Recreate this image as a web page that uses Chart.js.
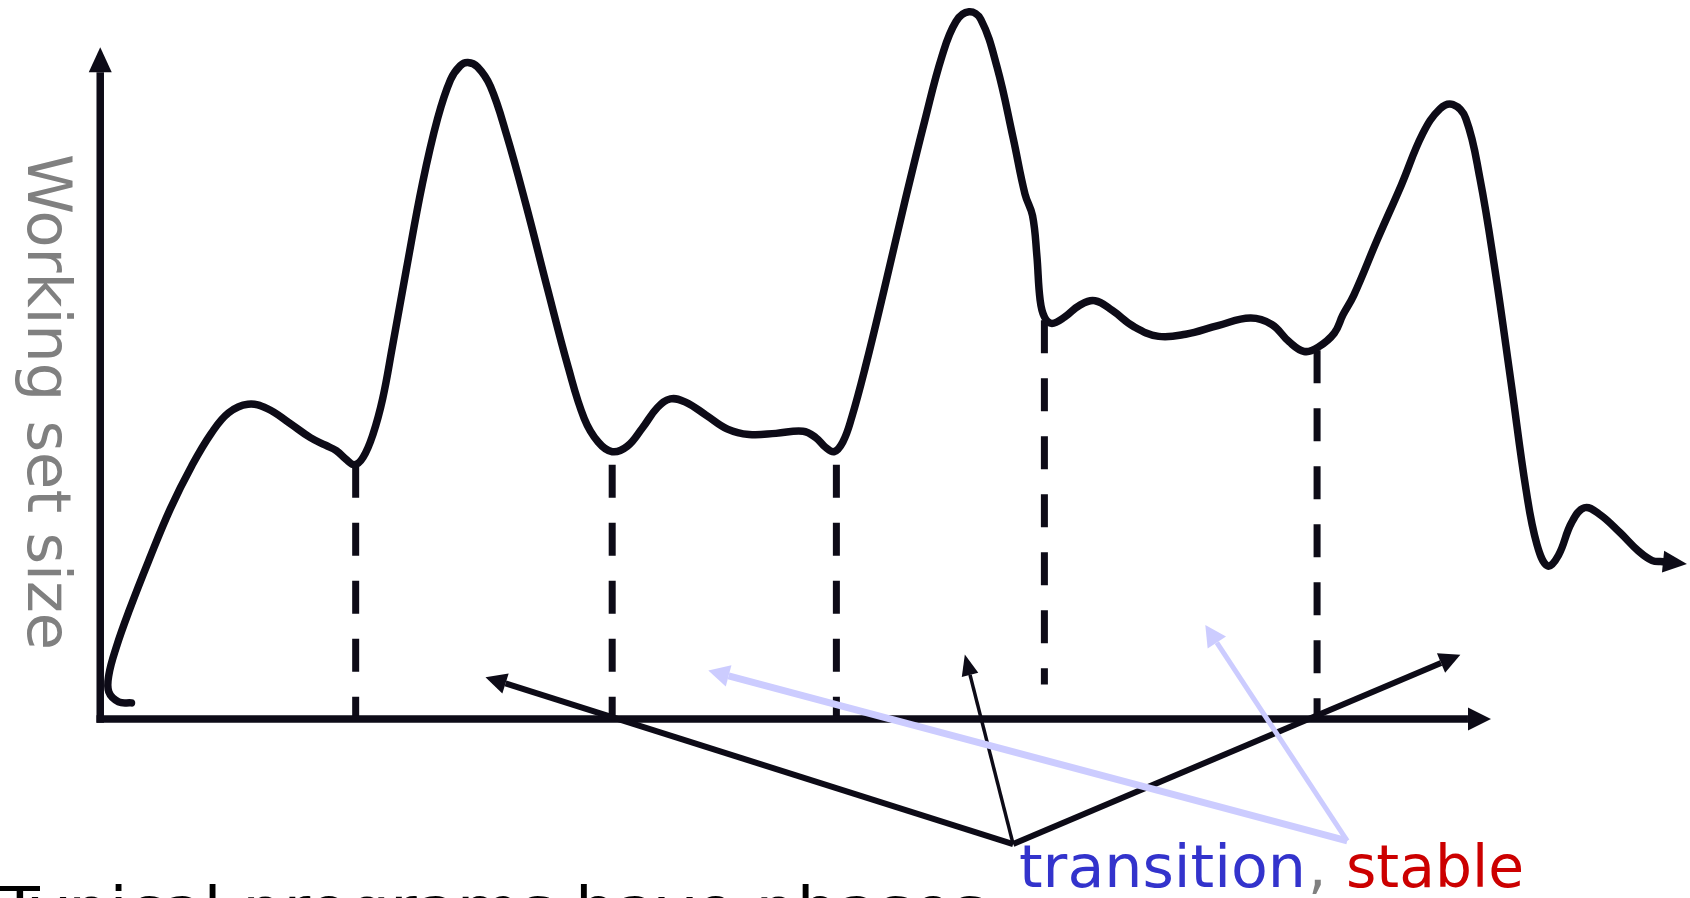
<!DOCTYPE html>
<html>
<head>
<meta charset="utf-8">
<title>Working set size</title>
<script src="https://cdn.jsdelivr.net/npm/chart.js@4.4.1/dist/chart.umd.min.js"></script>
<style>
  html, body { margin: 0; padding: 0; background: #fff; overflow: hidden; }
  canvas { display: block; }
</style>
</head>
<body>
<canvas id="chart" width="1690" height="898"></canvas>
<script>
'use strict'

// working set size over time (arbitrary units)
const timeValues = [
  2.9, 1.7, 0.8, 0.8, 1.5, 2.7, 4.5, 6.5, 8.5, 10.3, 11.9, 13.7, 15.5, 17.5, 19.5, 20.9,
  21.9, 22.8, 23.6, 24.4, 25.3, 26.2, 27.1, 28.4, 29.9, 31.3, 32.5, 33.4, 34.1, 35.0,
  36.2, 37.7, 39.5, 41.5, 43.4, 44.9, 46.2, 47.5, 48.9, 50.3, 51.7, 52.9, 54.3, 56.2,
  58.2, 60.2, 62.7, 65.2, 66.4, 67.3, 68.1, 68.9, 69.7, 71.0, 72.7, 74.7, 76.5, 78.1,
  79.4, 80.6, 81.7, 83.2, 84.7, 85.8, 86.5, 86.9, 87.2, 87.6, 88.3, 89.5, 90.9, 92.3,
  93.9, 95.9, 98.2, 100.7, 103.7, 106.7, 108.7, 110.3, 111.7, 113.0, 114.5, 115.3,
  116.3, 118.5, 120.7, 122.7, 124.3, 125.5, 126.7, 128.0, 129.4, 130.9, 132.3, 133.3,
  134.3, 135.3, 136.5, 137.7, 139.1, 141.0, 142.7, 144.0, 145.0
]
const sizeValues = [
  1.5, 1.6, 2.5, 4.1, 6.7, 10.1, 14.7, 19.5, 23.5, 26.5, 28.4, 29.2, 28.8, 27.5, 26.1, 25.4,
  24.9, 24.1, 23.6, 24.3, 26.4, 29.7, 34.5, 41.7, 49.7, 55.7, 59.3, 60.6, 60.9, 60.5,
  58.7, 54.2, 47.7, 39.9, 32.7, 27.9, 25.7, 24.8, 25.3, 27.0, 28.9, 29.7, 29.4, 28.2,
  26.9, 26.4, 26.5, 26.7, 26.1, 25.2, 24.8, 25.7, 27.9, 32.7, 39.7, 48.2, 55.5, 61.5,
  64.7, 65.6, 64.9, 60.5, 53.9, 48.7, 46.7, 43.0, 38.9, 37.3, 36.7, 37.3, 38.4, 38.8,
  37.9, 36.4, 35.5, 35.7, 36.5, 37.2, 36.6, 35.0, 34.1, 34.5, 35.8, 37.5,
  39.3, 44.5, 49.5, 54.3, 56.6, 57.0, 55.7, 50.2, 41.7, 31.2, 21.2, 16.2,
  14.2, 15.2, 18.2, 19.6, 19.0, 17.3, 15.6, 14.7, 14.6
]

// phase boundaries (dashed drops to the time axis)
const boundaryTime = [23.7, 47.5, 68.3, 87.6, 112.9]
const boundaryTop = [23.6, 23.6, 23.6, 37.0, 34.2]
const boundaryBottom = [0, 0, 0, 3.2, 0]

// label pointers: start near the word, end at the arrow head
const transitionFrom = [84.7, -11.6]
const transitionTo = [[37.6, 3.3], [80.7, 4.1], [124.4, 5.2]]
const stableFrom = [115.7, -11.3]
const stableTo = [[58.3, 4.0], [103.6, 7.1]]

// axes
const axisTimeEnd = 126.9
const axisSizeEnd = 60.0
const viewTime = [-9.3, 147.5]
const viewSize = [-16.6, 66.7]

const INK = '#0d0b17'
const PALE = '#ccccff'

function seg (from, to) {
  return [{ x: from[0], y: from[1] }, { x: to[0], y: to[1] }]
}

const datasets = []

stableTo.forEach((to, i) => {
  datasets.push({
    data: seg(stableFrom, to),
    borderColor: PALE,
    borderWidth: i === 0 ? 7 : 5,
    head: [21, 22]
  })
})

transitionTo.forEach((to, i) => {
  datasets.push({
    data: seg(transitionFrom, to),
    borderColor: INK,
    borderWidth: i === 1 ? 3.5 : 6,
    head: i === 1 ? [21, 17] : [21, 21]
  })
})

datasets.push({
  data: seg([-0.35, 0], [axisTimeEnd, 0]),
  borderColor: INK,
  borderWidth: 7.5,
  head: [23, 23]
})
datasets.push({
  data: seg([0, -0.35], [0, axisSizeEnd]),
  borderColor: INK,
  borderWidth: 7.5,
  head: [25, 23]
})

datasets.push({
  data: timeValues.map((t, i) => ({ x: t, y: sizeValues[i] })),
  borderColor: INK,
  borderWidth: 7.5,
  tension: 0.4,
  borderCapStyle: 'round',
  borderJoinStyle: 'round',
  head: [24, 22]
})

boundaryTime.forEach((t, i) => {
  datasets.push({
    data: seg([t, boundaryTop[i]], [t, boundaryBottom[i]]),
    borderColor: INK,
    borderWidth: 7,
    borderDash: [33, 25]
  })
})

datasets.forEach(ds => {
  ds.pointRadius = 0
  ds.fill = false
  ds.clip = false
  if (ds.tension === undefined) ds.tension = 0
  if (!ds.borderCapStyle) ds.borderCapStyle = 'butt'
})

// triangle heads at the last point of any dataset that has `head: [length, width]`
const arrowHeads = {
  id: 'arrowHeads',
  afterDatasetsDraw (chart) {
    const ctx = chart.ctx
    chart.data.datasets.forEach((ds, i) => {
      if (!ds.head) return
      const pts = chart.getDatasetMeta(i).data
      const a = pts[pts.length - 2]
      const b = pts[pts.length - 1]
      const len = Math.hypot(b.x - a.x, b.y - a.y)
      const ux = (b.x - a.x) / len
      const uy = (b.y - a.y) / len
      const [l, w] = ds.head
      ctx.save()
      ctx.fillStyle = ds.borderColor
      ctx.beginPath()
      ctx.moveTo(b.x + ux * l, b.y + uy * l)
      ctx.lineTo(b.x - uy * w / 2, b.y + ux * w / 2)
      ctx.lineTo(b.x + uy * w / 2, b.y - ux * w / 2)
      ctx.closePath()
      ctx.fill()
      ctx.restore()
    })
  }
}

const slideTexts = [
  { text: 'Working set size', x: 28, y: 154, width: 496, size: 60, color: '#808080', rotate: true },
  { text: 'transition', x: 1019, y: 887, width: 287, size: 58, color: '#3333cc' },
  { text: ',', x: 1308, y: 887, size: 58, color: '#808080' },
  { text: 'stable', x: 1346, y: 887, width: 178, size: 58, color: '#cc0000' },
  { text: 'Typical programs have phases', x: 0, y: 930, width: 986, size: 60, color: '#000000' }
]

const slideText = {
  id: 'slideText',
  afterDraw (chart) {
    const ctx = chart.ctx
    slideTexts.forEach(t => {
      ctx.save()
      ctx.font = `${t.size}px "DejaVu Sans", sans-serif`
      ctx.fillStyle = t.color
      ctx.textAlign = 'left'
      ctx.textBaseline = 'alphabetic'
      ctx.translate(t.x, t.y)
      if (t.rotate) ctx.rotate(Math.PI / 2)
      if (t.width) ctx.scale(t.width / ctx.measureText(t.text).width, 1)
      ctx.fillText(t.text, 0, 0)
      ctx.restore()
    })
  }
}

new Chart(document.getElementById('chart'), {
  type: 'line',
  data: { datasets },
  options: {
    responsive: false,
    animation: false,
    events: [],
    layout: { padding: 0 },
    plugins: {
      legend: { display: false },
      tooltip: { enabled: false }
    },
    scales: {
      x: { type: 'linear', min: viewTime[0], max: viewTime[1], display: false },
      y: { type: 'linear', min: viewSize[0], max: viewSize[1], display: false }
    }
  },
  plugins: [arrowHeads, slideText]
})
</script>
</body>
</html>
